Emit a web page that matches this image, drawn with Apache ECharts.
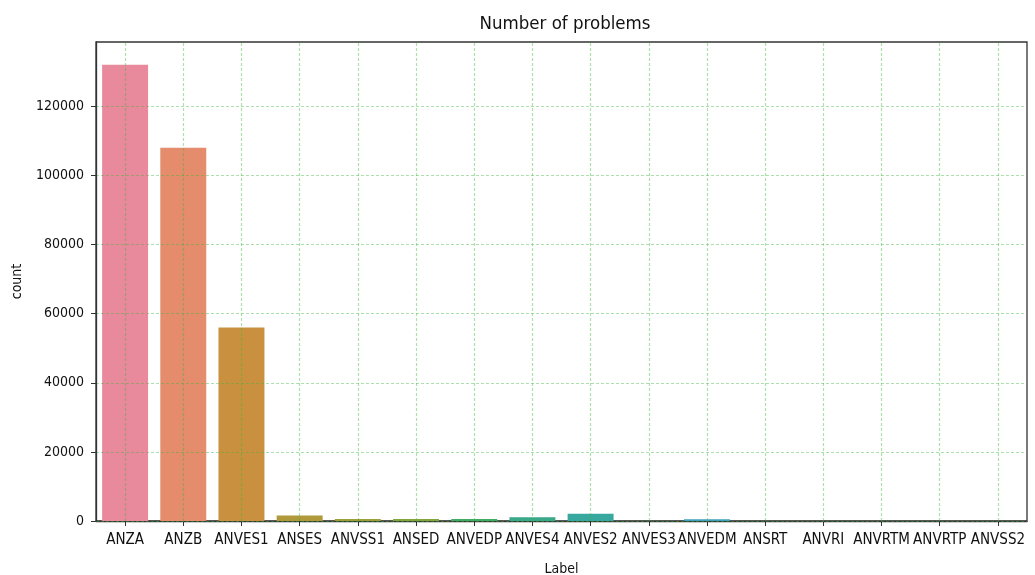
<!DOCTYPE html>
<html>
<head>
<meta charset="utf-8">
<title>Number of problems</title>
<script src="https://cdn.jsdelivr.net/npm/echarts@6/dist/echarts.min.js"></script>
<style>
  html, body { margin: 0; padding: 0; background: #fff; }
  #chart { width: 1035px; height: 575px; }
</style>
</head>
<body>
<div id="chart"></div>
<script>
// Problem labels and how many times each occurs
const labels = ['ANZA', 'ANZB', 'ANVES1', 'ANSES', 'ANVSS1', 'ANSED', 'ANVEDP', 'ANVES4',
                'ANVES2', 'ANVES3', 'ANVEDM', 'ANSRT', 'ANVRI', 'ANVRTM', 'ANVRTP', 'ANVSS2'];
const counts = [132000, 108000, 56000, 1600, 600, 600, 600, 1100,
                2100, 0, 500, 0, 0, 0, 0, 0];
const barColors = ['#e8899c', '#e48c6b', '#c9913f', '#b0993a', '#9ba038', '#84a53b', '#3fab63', '#39a98a',
                   '#38a79e', '#3aa5ad', '#3ea1bd', '#4a9dd0', '#7894dc', '#a68bdc', '#c984d0', '#e07fb8'];
const yTicks = [0, 20000, 40000, 60000, 80000, 100000, 120000];

const FONT = 'DejaVu Sans Condensed, DejaVu Sans, sans-serif';
const gridGreen = 'rgba(60, 180, 60, 0.42)';

const chart = echarts.init(document.getElementById('chart'), null, { renderer: 'canvas' });

chart.setOption({
  animation: false,
  backgroundColor: '#ffffff',
  title: {
    text: 'Number of problems',
    left: 560,
    top: 10,
    textAlign: 'center',
    textStyle: { fontFamily: FONT, fontSize: 18.5, fontWeight: 'normal', color: '#111' }
  },
  grid: {
    left: 96, right: 8, top: 42, bottom: 54,
    outerBoundsMode: 'none',
    containLabel: false,
    show: true, borderColor: '#333', borderWidth: 1.3, backgroundColor: 'transparent'
  },
  xAxis: {
    type: 'category',
    data: labels,
    name: 'Label',
    nameLocation: 'middle',
    nameGap: 41,
    nameTextStyle: { fontFamily: FONT, fontSize: 14, color: '#111' },
    axisLine: { show: true, lineStyle: { color: '#333', width: 1.3 } },
    axisTick: { show: true, alignWithLabel: true, length: 5, lineStyle: { color: '#333' } },
    axisLabel: { fontFamily: FONT, fontSize: 15, color: '#111', interval: 0, margin: 12 },
    splitLine: { show: false }
  },
  yAxis: {
    type: 'value',
    min: 0,
    max: 138600,
    interval: 20000,
    z: 3,
    name: 'count',
    nameLocation: 'middle',
    nameGap: 72,
    nameTextStyle: { fontFamily: FONT, fontSize: 14, color: '#111' },
    axisLine: { show: true, lineStyle: { color: '#333', width: 1.3 } },
    axisTick: { show: true, length: 5, customValues: yTicks, lineStyle: { color: '#333' } },
    axisLabel: {
      fontFamily: FONT, fontSize: 14, color: '#111', customValues: yTicks, margin: 12,
      formatter: v => String(v)
    },
    splitLine: { show: true, lineStyle: { color: gridGreen, type: [3, 2], width: 1.2 } }
  },
  series: [{
    type: 'bar',
    barWidth: '79%',
    data: counts.map((v, i) => ({ value: v, itemStyle: { color: barColors[i] } })),
    markLine: {
      silent: true,
      symbol: 'none',
      z: 5,
      label: { show: false },
      lineStyle: { color: gridGreen, type: [3, 2], width: 1.2 },
      data: labels.map(l => ({ xAxis: l }))
    }
  }]
});
</script>
</body>
</html>
